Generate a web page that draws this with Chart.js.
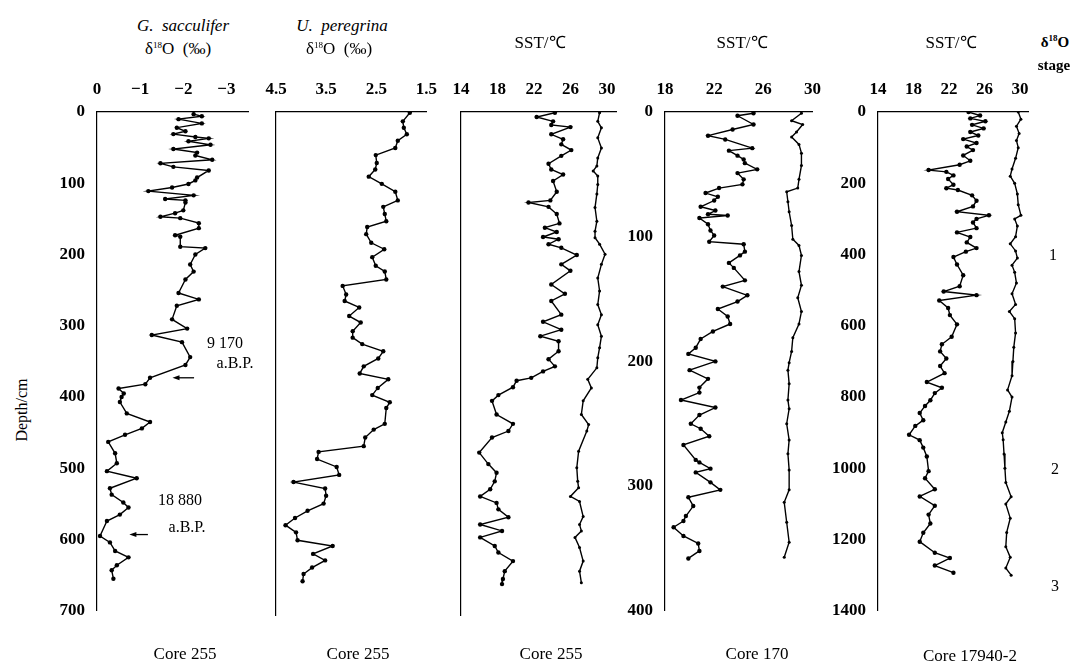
<!DOCTYPE html>
<html>
<head>
<meta charset="utf-8">
<script src="https://cdn.jsdelivr.net/npm/chart.js@4.4.1/dist/chart.umd.min.js"></script>
<style>
  body { margin: 0; background: #fff; }
  #wrap { position: relative; width: 1075px; height: 665px; overflow: hidden;
          font-family: "Liberation Serif", "Times New Roman", serif; color: #000; }
  canvas { position: absolute; }
  .lbl { position: absolute; white-space: nowrap; transform: translate(-50%, -50%); font-size: 16px; line-height: 1; }
  .ttl { font-size: 17px; }
  .it { font-style: italic; }
  .bold { font-weight: bold; }
  sup { font-size: 9px; vertical-align: 6px; line-height: 0; }
</style>
</head>
<body>
<div id="wrap">
  <canvas id="p1"></canvas>
  <canvas id="p2"></canvas>
  <canvas id="p3"></canvas>
  <canvas id="p4"></canvas>
  <canvas id="p5"></canvas>

  <div class="lbl ttl it" style="left:183px; top:25px;">G.&nbsp; sacculifer</div>
  <div class="lbl ttl" style="left:178px; top:48px;">δ<sup>18</sup>O&nbsp; (‰)</div>
  <div class="lbl ttl it" style="left:342px; top:25px;">U.&nbsp; peregrina</div>
  <div class="lbl ttl" style="left:339px; top:48px;">δ<sup>18</sup>O&nbsp; (‰)</div>
  <div class="lbl ttl" style="left:540px; top:42px;">SST/℃</div>
  <div class="lbl ttl" style="left:742px; top:42px;">SST/℃</div>
  <div class="lbl ttl" style="left:951px; top:42px;">SST/℃</div>
  <div class="lbl bold" style="left:1055px; top:42px; font-size:15px;">δ<sup>18</sup>O</div>
  <div class="lbl bold" style="left:1054px; top:65px; font-size:15px;">stage</div>

  <div class="lbl" style="left:22px; top:410px; transform:translate(-50%,-50%) rotate(-90deg);">Depth/cm</div>

  <div class="lbl" style="left:225px; top:343px;">9 170</div>
  <div class="lbl" style="left:235px; top:363px;">a.B.P.</div>
  <div class="lbl" style="left:180px; top:500px;">18 880</div>
  <div class="lbl" style="left:187px; top:527px;">a.B.P.</div>

  <div class="lbl" style="left:1053px; top:255px;">1</div>
  <div class="lbl" style="left:1055px; top:469px;">2</div>
  <div class="lbl" style="left:1055px; top:586px;">3</div>

  <div class="lbl ttl" style="left:185px; top:653px;">Core 255</div>
  <div class="lbl ttl" style="left:358px; top:653px;">Core 255</div>
  <div class="lbl ttl" style="left:551px; top:653px;">Core 255</div>
  <div class="lbl ttl" style="left:757px; top:653px;">Core 170</div>
  <div class="lbl ttl" style="left:970px; top:655px;">Core 17940-2</div>
</div>

<script>
// --- Core 255, G. sacculifer d18O (permil) ---
const sacculiferDepth = [3,6,10,16,22,27,31,35,37,41,46,52,57,61,67,72,77,82,92,96,
  101,106,111,117,122,124,127,138,142,147,149,156,163,173,175,189,191,200,214,224,
  235,254,263,272,291,304,313,323,344,355,373,382,388,395,400,407,423,435,444,453,
  463,479,493,504,514,528,537,548,555,565,574,595,604,616,625,636,643,655];
const sacculiferD18O = [-2.24,-2.43,-1.89,-2.43,-1.85,-2.05,-1.77,-2.28,-2.59,-2.12,
  -2.63,-1.77,-2.32,-2.28,-2.67,-1.47,-1.77,-2.59,-2.32,-2.28,
  -2.12,-1.74,-1.19,-2.24,-1.58,-2.05,-2.05,-2.0,-1.81,-1.47,
  -1.93,-2.36,-2.36,-1.81,-1.93,-1.93,-2.51,-2.28,-2.16,-2.24,
  -2.05,-1.89,-2.36,-1.85,-1.74,-2.09,-1.27,-1.97,-2.16,-2.05,
  -1.23,-1.12,-0.5,-0.62,-0.57,-0.53,-0.69,-1.23,-1.04,-0.65,
  -0.26,-0.42,-0.46,-0.23,-0.92,-0.30,-0.34,-0.61,-0.73,-0.53,
  -0.23,-0.07,-0.30,-0.42,-0.73,-0.46,-0.34,-0.38];

// --- Core 255, U. peregrina d18O (permil) ---
const peregrinaDepth = [1,13,22,31,40,50,60,71,80,90,100,111,123,132,142,152,160,170,182,191,
  202,214,222,233,242,254,263,272,284,293,305,314,323,333,343,354,364,372,384,394,
  404,412,434,442,453,465,473,483,494,505,515,524,534,545,555,565,575,585,596,604,
  615,624,634,643,653];
const peregrinaD18O = [1.83,1.97,1.95,1.89,2.07,2.12,2.51,2.49,2.52,2.65,
  2.39,2.12,2.07,2.36,2.33,2.30,2.68,2.70,2.60,2.34,
  2.58,2.51,2.33,2.30,3.17,3.10,3.13,2.84,3.04,2.81,
  2.97,2.97,2.78,2.36,2.46,2.75,2.83,2.26,2.47,2.58,
  2.23,2.30,2.33,2.55,2.72,2.75,3.65,3.68,3.29,3.24,
  4.15,3.52,3.50,3.55,3.87,4.12,4.31,4.10,4.07,3.37,
  3.76,3.52,3.78,3.95,3.97];

// --- Core 255 SST (deg C): cold season / warm season ---
const sst255ColdDepth = [1,7,13,18,21,31,38,45,53,61,72,80,87,96,111,123,126,132,142,155,
  161,167,174,177,184,189,199,212,221,240,253,263,282,292,303,312,319,333,344,354,
  361,370,374,383,394,402,421,434,444,453,474,490,502,514,525,535,544,553,564,574,
  583,592,604,613,625,639,650,657];
const sst255Cold = [24.3,22.3,24.1,23.9,26.0,23.9,25.2,25.0,26.1,25.0,
  23.6,23.9,25.2,24.1,24.5,23.8,21.4,23.6,24.5,24.8,
  23.2,24.5,23.0,24.7,23.6,25.0,26.7,25.0,26.0,23.9,
  25.4,23.9,25.0,23.0,25.0,22.7,24.7,24.7,23.6,24.3,
  23.0,21.7,20.1,19.7,18.1,17.4,17.9,19.7,19.2,17.4,
  16.0,17.0,17.9,17.7,17.2,16.1,17.9,18.1,19.2,16.1,
  18.5,16.1,17.7,18.1,19.7,18.8,18.6,18.5];
const sst255WarmDepth = [1,13,22,36,50,64,75,82,89,101,114,133,152,166,175,184,198,212,231,249,
  268,282,296,312,328,342,356,372,384,402,421,435,444,472,495,514,523,535,542,563,
  574,583,592,606,625,639,655];
const sst255Warm = [29.2,29.0,29.4,29.0,29.4,29.0,28.9,28.5,29.0,29.0,
  28.9,28.7,28.9,28.7,28.7,29.2,29.8,29.4,29.0,29.2,
  29.0,29.4,29.0,29.4,29.2,29.0,28.9,27.9,28.3,27.4,
  27.2,28.0,27.8,26.9,26.7,26.8,26.9,26.0,27.0,27.4,
  27.0,27.2,26.5,27.0,27.4,27.0,27.2];

// --- Core 170 SST (deg C) ---
const sst170ColdDepth = [1,3,10,14,19,22,29,31,35,38,41,46,49,54,58,61,65,68,71,76,
  79,82,83,85,90,95,99,104,106,112,115,121,125,135,140,147,152,158,164,170,
  176,182,189,194,200,207,214,221,225,231,237,243,250,254,260,267,279,281,286,289,
  297,303,309,316,324,328,333,340,346,352,358];
const sst170Cold = [25.2,23.9,25.2,23.5,21.5,22.9,25.1,23.2,23.9,24.4,
  24.5,25.5,23.9,24.4,24.3,22.4,21.3,22.3,22.0,20.9,
  22.1,21.5,23.1,20.8,21.5,21.7,22.0,21.6,24.4,24.5,
  24.1,23.2,23.6,24.5,22.7,24.7,23.9,22.3,23.1,23.3,
  21.9,20.9,20.5,19.9,22.1,20.0,21.5,20.8,20.8,19.3,
  22.1,20.8,20.1,20.9,21.6,19.5,20.5,20.8,21.7,20.5,
  21.7,22.5,19.9,20.3,19.7,19.5,18.7,19.5,20.7,20.8,19.9];
const sst170WarmDepth = [1,7,10,16,20,26,33,43,54,61,64,72,80,91,102,107,115,128,139,149,
  160,170,181,192,201,207,218,231,238,250,263,274,287,303,313,329,345,357];
const sst170Warm = [29.1,28.3,29.2,28.7,28.3,28.9,29.1,29.1,28.9,28.8,
  27.9,28.0,28.1,28.3,28.4,28.9,29.1,28.9,29.1,28.8,
  29.1,28.9,28.4,28.3,28.1,28.0,28.1,28.0,28.1,27.9,
  28.1,28.0,28.1,28.1,27.7,27.9,28.1,27.7];

// --- Core 17940-2 SST (deg C) ---
const sst17940ColdDepth = [0,10,18,26,36,46,56,66,76,87,97,107,122,137,148,163,168,178,188,204,
  214,219,234,249,265,280,290,300,310,326,338,351,366,382,392,407,428,458,489,504,
  514,529,550,570,596,631,652,672,692,713,733,758,774,789,809,825,845,865,881,906,
  921,942,967,1008,1028,1059,1079,1105,1130,1155,1181,1206,1237,1252,1273,1293];
const sst17940Cold = [24.2,25.5,24.4,26.1,24.6,25.9,24.4,25.3,23.6,25.1,
  24.0,24.7,23.6,24.4,23.2,19.7,21.7,22.5,21.9,22.5,
  21.7,23.0,24.6,25.1,24.7,22.9,26.5,25.1,24.7,25.1,
  22.9,24.4,24.0,25.1,23.9,22.5,22.9,23.6,23.2,21.4,
  25.1,20.9,21.9,22.1,22.9,22.3,21.2,21.0,21.7,21.0,
  21.5,19.5,21.2,20.4,19.9,19.3,18.7,19.1,18.2,17.5,
  18.7,19.1,19.5,19.7,19.3,20.4,18.7,20.4,19.7,19.9,
  19.1,18.7,20.4,22.1,20.4,22.5];
const sst17940WarmDepth = [0,20,40,60,80,100,130,160,180,200,230,260,290,300,320,350,370,390,410,430,
  450,480,510,540,560,580,620,660,700,740,780,800,840,870,900,920,960,1000,1040,1080,
  1100,1140,1180,1220,1250,1280,1300];
const sst17940Warm = [29.8,30.1,29.6,29.9,29.6,29.8,29.5,29.1,28.9,29.4,
  29.7,29.8,30.1,29.4,29.7,29.5,28.9,29.5,29.7,29.1,
  29.4,29.6,29.1,29.5,28.8,29.4,29.5,29.3,29.2,29.1,
  28.6,29.1,28.8,28.4,28.0,28.1,28.2,28.3,28.4,29.0,
  28.4,28.9,28.5,28.4,28.9,28.4,29.0];

// axis ticks
const ticksSacc = [0, -1, -2, -3];
const ticksPereg = [4.5, 3.5, 2.5, 1.5];
const ticksSst = [14, 18, 22, 26, 30];
const ticksSst170 = [18, 22, 26, 30];
const depthTicks255 = [0, 100, 200, 300, 400, 500, 600, 700];
const depthTicks170 = [0, 100, 200, 300, 400];
const depthTicks17940 = [0, 200, 400, 600, 800, 1000, 1200, 1400];

// layout (px)
const TOP = 112, BOTTOM = 615;
const YAXIS_W = 60, XAXIS_H = 40, PAD = 10;
const tickFont = { family: '"Liberation Serif", "Times New Roman", serif', size: 17, weight: 'bold' };

const toPoints = (depths, vals) => depths.map((d, i) => ({ x: vals[i], y: d }));
const fmt = v => v < 0 ? '\u2212' + Math.abs(v) : String(v);

// small left-pointing arrows for the 14C ages on the first panel
const ageArrows = {
  id: 'ageArrows',
  afterDatasetsDraw(chart, args, opts) {
    const { ctx, scales: { x, y } } = chart;
    ctx.save();
    ctx.strokeStyle = '#000';
    ctx.fillStyle = '#000';
    ctx.lineWidth = 1.3;
    (opts.items || []).forEach(a => {
      const x1 = x.getPixelForValue(a.from), x2 = x.getPixelForValue(a.to), py = y.getPixelForValue(a.depth);
      ctx.beginPath();
      ctx.moveTo(x1, py);
      ctx.lineTo(x2 + 5, py);
      ctx.stroke();
      ctx.beginPath();
      ctx.moveTo(x2, py);
      ctx.lineTo(x2 + 7, py - 2.5);
      ctx.lineTo(x2 + 7, py + 2.5);
      ctx.closePath();
      ctx.fill();
    });
    ctx.restore();
  }
};

function lineSet(points, radius) {
  return {
    data: points,
    showLine: true,
    borderColor: '#000',
    backgroundColor: '#000',
    borderWidth: 1.4,
    pointRadius: radius,
    pointBorderWidth: 0,
    pointHoverRadius: radius,
    tension: 0
  };
}

function makePanel(id, cfg) {
  const canvas = document.getElementById(id);
  const w = cfg.right - cfg.left + YAXIS_W + PAD;
  const h = BOTTOM - TOP + XAXIS_H + PAD;
  canvas.width = w;
  canvas.height = h;
  canvas.style.width = w + 'px';
  canvas.style.height = h + 'px';
  canvas.style.left = (cfg.left - YAXIS_W) + 'px';
  canvas.style.top = (TOP - XAXIS_H) + 'px';

  return new Chart(canvas, {
    type: 'scatter',
    data: { datasets: cfg.datasets },
    options: {
      responsive: false,
      animation: false,
      devicePixelRatio: 1,
      layout: { autoPadding: false, padding: { left: 0, top: 0, right: PAD, bottom: PAD } },
      plugins: {
        legend: { display: false },
        tooltip: { enabled: false },
        ageArrows: { items: cfg.arrows || [] }
      },
      scales: {
        x: {
          type: 'linear',
          position: 'top',
          min: cfg.xMin,
          max: cfg.xMax,
          reverse: !!cfg.reverse,
          grid: { display: false },
          border: { display: true, color: '#000', width: 1.2 },
          ticks: { color: '#000', font: tickFont, padding: 4, maxRotation: 0, autoSkip: false, callback: fmt },
          afterBuildTicks: s => { s.ticks = cfg.xTicks.map(v => ({ value: v })); },
          afterFit: s => { s.height = XAXIS_H; }
        },
        y: {
          type: 'linear',
          position: 'left',
          min: 0,
          max: cfg.depthMax,
          reverse: true,
          grid: { display: false },
          border: { display: true, color: '#000', width: 1.2 },
          ticks: { color: '#000', font: tickFont, padding: 4, autoSkip: false, callback: v => String(v) },
          afterBuildTicks: s => { s.ticks = (cfg.yTicks || []).map(v => ({ value: v })); },
          afterFit: s => { s.width = YAXIS_W; }
        }
      }
    },
    plugins: [ageArrows]
  });
}

makePanel('p1', {
  left: 97, right: 248, xMin: -3.5, xMax: 0, reverse: true, xTicks: ticksSacc,
  depthMax: 700, yTicks: depthTicks255,
  datasets: [lineSet(toPoints(sacculiferDepth, sacculiferD18O), 2.2)],
  arrows: [{ depth: 373, from: -2.25, to: -1.75 }, { depth: 593, from: -1.18, to: -0.75 }]
});

makePanel('p2', {
  left: 276, right: 431, xMin: 1.5, xMax: 4.5, reverse: true, xTicks: ticksPereg,
  depthMax: 700, yTicks: [],
  datasets: [lineSet(toPoints(peregrinaDepth, peregrinaD18O), 2.2)]
});

makePanel('p3', {
  left: 461, right: 616, xMin: 14, xMax: 31, xTicks: ticksSst,
  depthMax: 700, yTicks: [],
  datasets: [
    lineSet(toPoints(sst255ColdDepth, sst255Cold), 2.2),
    lineSet(toPoints(sst255WarmDepth, sst255Warm), 1.5)
  ]
});

makePanel('p4', {
  left: 665, right: 815, xMin: 18, xMax: 30, xTicks: ticksSst170,
  depthMax: 400, yTicks: depthTicks170,
  datasets: [
    lineSet(toPoints(sst170ColdDepth, sst170Cold), 2.2),
    lineSet(toPoints(sst170WarmDepth, sst170Warm), 1.5)
  ]
});

makePanel('p5', {
  left: 878, right: 1028, xMin: 14, xMax: 30.9, xTicks: ticksSst,
  depthMax: 1400, yTicks: depthTicks17940,
  datasets: [
    lineSet(toPoints(sst17940ColdDepth, sst17940Cold), 2.2),
    lineSet(toPoints(sst17940WarmDepth, sst17940Warm), 1.5)
  ]
});
</script>
</body>
</html>
